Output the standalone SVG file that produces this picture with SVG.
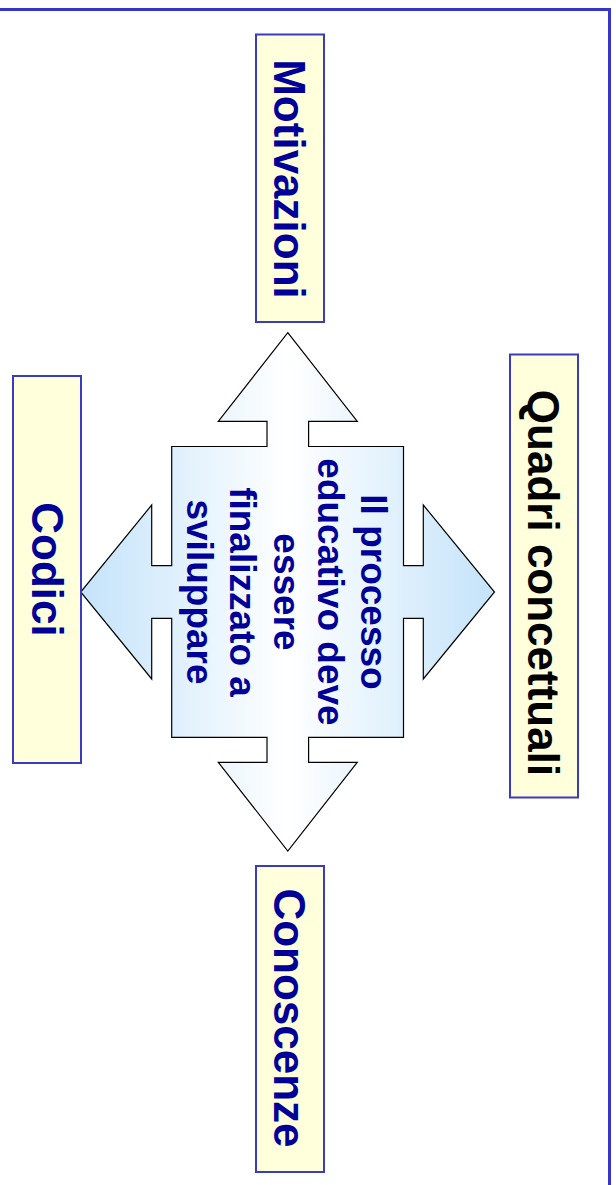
<svg xmlns="http://www.w3.org/2000/svg" width="616" height="1185" viewBox="0 0 616 1185">
<defs>
<linearGradient id="g" gradientUnits="userSpaceOnUse" x1="80" y1="0" x2="495" y2="0">
<stop offset="0" stop-color="#c4e3fa"/>
<stop offset="0.5" stop-color="#ffffff"/>
<stop offset="1" stop-color="#c4e3fa"/>
</linearGradient>
<style>
.box{fill:#ffffdb;stroke:#3b3bbf;stroke-width:2}
.lbl{font-family:"Liberation Sans",Arial,sans-serif;font-weight:bold;font-size:44px;fill:#000099;text-anchor:middle}
.ctr{font-family:"Liberation Sans",Arial,sans-serif;font-weight:bold;font-size:37px;fill:#000099;text-anchor:middle}
</style>
</defs>
<rect width="616" height="1185" fill="#ffffff"/>
<path d="M-5 9.5 H609.5 V1195" fill="none" stroke="#3535cc" stroke-width="3"/>
<g id="center">
<path d="M287.8 332.7 L357.3 421.3 L308.6 421.3 L308.6 446.5 L403.5 446.5 L403.5 565.7 L423.3 565.7 L423.3 505 L494.5 592 L423.3 679 L423.3 618.3 L403.5 618.3 L403.5 737.3 L308.6 737.3 L308.6 762.3 L357.3 762.3 L287.8 851 L218.3 762.3 L267 762.3 L267 737.3 L171.7 737.3 L171.7 618.3 L151.7 618.3 L151.7 679 L80.7 592 L151.7 505 L151.7 565.7 L171.7 565.7 L171.7 446.5 L267 446.5 L267 421.3 L218.3 421.3 Z" fill="url(#g)" stroke="#000000" stroke-width="1.2" stroke-linejoin="miter"/>
<text class="ctr" transform="translate(361,592) rotate(90)">Il processo</text>
<text class="ctr" transform="translate(318,592) rotate(90)">educativo deve</text>
<text class="ctr" transform="translate(274,592) rotate(90)">essere</text>
<text class="ctr" transform="translate(230,592) rotate(90)">finalizzato a</text>
<text class="ctr" transform="translate(187,592) rotate(90)">sviluppare</text>
</g>
<g id="motivazioni">
<rect class="box" x="256" y="34.5" width="68" height="287.5"/>
<text class="lbl" transform="translate(274,179) rotate(90)">Motivazioni</text>
</g>
<g id="codici">
<rect class="box" x="13" y="376" width="68" height="387"/>
<text class="lbl" transform="translate(31.5,569.5) rotate(90)">Codici</text>
</g>
<g id="quadri">
<rect class="box" x="510" y="354.5" width="68" height="443"/>
<text class="lbl" transform="translate(528,583) rotate(90)" style="fill:#000000">Quadri concettuali</text>
</g>
<g id="conoscenze">
<rect class="box" x="256" y="866" width="68" height="306"/>
<text class="lbl" transform="translate(274,1018) rotate(90)">Conoscenze</text>
</g>
<g id="connectors"/>
</svg>
